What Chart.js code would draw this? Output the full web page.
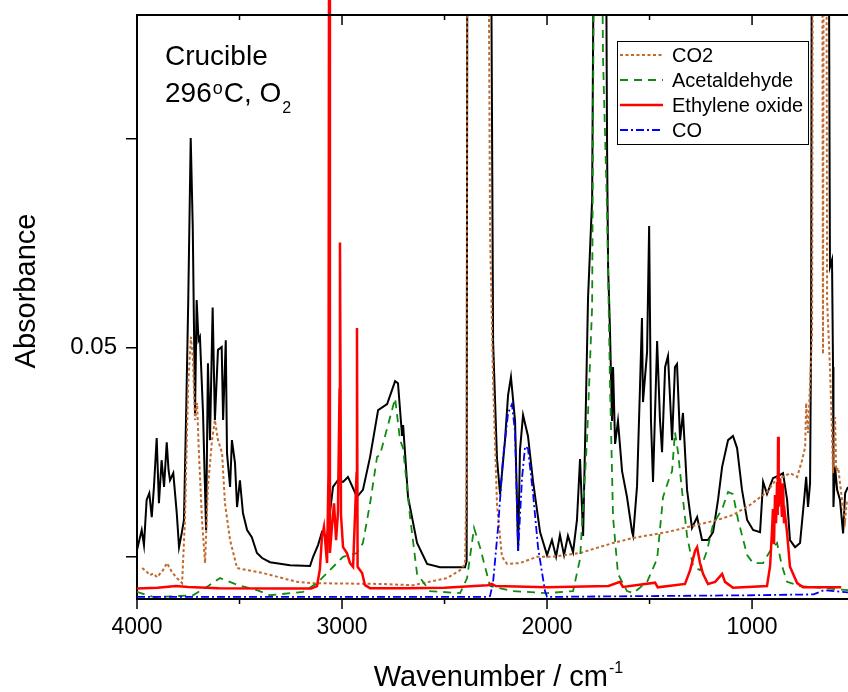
<!DOCTYPE html>
<html>
<head>
<meta charset="utf-8">
<script src="https://cdn.jsdelivr.net/npm/chart.js@4.4.1/dist/chart.umd.min.js"></script>
<style>
  body { margin: 0; background: #fff; }
  #wrap { width: 848px; height: 692px; }
</style>
</head>
<body>
<div id="wrap"><canvas id="chart" width="848" height="692"></canvas></div>
<script>
// IR spectrum, crucible at 296 C in O2. Absorbance kept in milli-absorbance units.
const xTicks = [4000, 3000, 2000, 1000];
const xMinor = [3500, 2500, 1500];
const yTicks = [0, 0.05, 0.1];
const yLabels = ['', '0.05', ''];

// measured spectrum (black)
const spectrumWn = [
  4000, 3977, 3966, 3953, 3940, 3928, 3917, 3904, 3893, 3880,
  3868, 3855, 3846, 3839, 3823, 3806, 3795, 3782, 3771, 3759,
  3750, 3738, 3728, 3717, 3709, 3700, 3693, 3678, 3663, 3654,
  3644, 3631, 3620, 3605, 3587, 3580, 3567, 3561, 3546, 3537,
  3522, 3512, 3498, 3483, 3463, 3440, 3415, 3390, 3351, 3254,
  3156, 3141, 3117, 3098, 3073, 3044, 3020, 2995, 2971, 2946,
  2927, 2898, 2863, 2824, 2780, 2741, 2727, 2707, 2702, 2678,
  2634, 2585, 2522, 2400, 2392, 2388, 2278, 2263, 2244, 2229,
  2205, 2190, 2176, 2156, 2141, 2132, 2117, 2093, 2068, 2034,
  2000, 1976, 1956, 1937, 1917, 1898, 1873, 1854, 1839, 1824,
  1810, 1800, 1780, 1766, 1717, 1707, 1702, 1693, 1683, 1678,
  1668, 1654, 1634, 1610, 1585, 1580, 1561, 1546, 1537, 1532,
  1512, 1502, 1493, 1483, 1463, 1449, 1439, 1424, 1410, 1390,
  1376, 1366, 1351, 1337, 1317, 1293, 1268, 1244, 1215, 1190,
  1166, 1146, 1117, 1093, 1073, 1049, 1024, 995, 961, 946,
  927, 898, 863, 849, 829, 815, 790, 766, 746, 736,
  727, 717, 712, 707, 629, 620, 610, 605, 603, 595,
  585, 571, 556, 546, 532
];
const spectrumMAbs = [
  1.6, 6.4, 2.8, 13.6, 15.2, 9.5, 17.0, 28.4, 12.8, 23.1,
  16.7, 27.4, 20.7, 18.3, 20.0, 10.4, 2.3, 5.6, 8.8, 37.5,
  61.4, 100.2, 78.8, 34.4, 61.4, 51.8, 52.6, 34.4, 6.4, 46.3,
  27.9, 59.6, 32.7, 49.5, 50.2, 32.7, 51.8, 24.8, 16.7, 27.9,
  22.4, 11.9, 18.3, 10.4, 6.4, 4.7, 0.9, -0.3, -1.3, -2.0,
  -2.2, 0.0, 2.8, 5.9, 4.7, 16.7, 18.3, 17.9, 19.1, 16.4,
  14.3, 16.0, 23.9, 35.1, 36.5, 42.0, 41.5, 28.9, 31.5, 14.3,
  3.3, -1.7, -2.5, -2.5, -1.0, 200, 200, 51.3, 23.4, 15.0,
  27.9, 38.7, 43.0, 32.5, 1.4, 25.5, 33.9, 28.9, 17.9, 5.9,
  0.4, 4.0, 0.0, 5.2, 0.4, 5.0, 1.1, 8.8, 23.4, 5.0,
  37.5, 61.9, 85.5, 200, 200, 96.5, 69.0, 54.2, 32.5, 45.4,
  27.0, 32.5, 20.5, 14.3, 5.9, 5.0, 16.9, 41.5, 57.1, 37.0,
  49.0, 79.1, 32.5, 17.9, 51.6, 32.7, 25.0, 45.4, 48.0, 27.9,
  45.4, 46.1, 27.9, 34.4, 16.0, 6.9, 9.5, 4.0, 4.0, 5.9,
  13.6, 21.5, 27.9, 28.9, 26.0, 16.0, 8.8, 6.4, 5.9, 17.9,
  15.0, 18.8, 19.6, 20.0, 13.6, 4.0, 2.3, 3.3, 13.6, 19.1,
  11.9, 17.6, 53.5, 200, 200, 69.3, 71.0, 45.4, 11.9, 21.5,
  16.0, 13.6, 5.6, 15.2, 16.7
];

// CO2 reference
const co2Wn = [
  3975, 3954, 3937, 3920, 3902, 3873, 3854, 3829, 3805, 3780,
  3766, 3751, 3737, 3727, 3717, 3707, 3698, 3683, 3668, 3654,
  3634, 3620, 3605, 3585, 3571, 3546, 3512, 3385, 3220, 3156,
  2815, 2654, 2488, 2424, 2400, 2392, 2388, 2290, 2278, 2263,
  2244, 2220, 2195, 2132, 2049, 1971, 1839, 1678, 1580, 1415,
  1254, 1171, 1093, 1010, 927, 878, 849, 815, 780, 756,
  741, 736, 727, 707, 702, 659, 654, 649, 639, 634,
  620, 610, 605, 595, 590, 580, 561, 546, 537
];
const co2MAbs = [
  -2.7, -3.5, -4.4, -4.0, -4.9, -3.2, -1.5, -3.7, -5.1, -6.3,
  8.8, 40.6, 52.6, 47.1, 32.7, 36.8, 24.8, 8.8, -1.5, 16.7,
  27.9, 32.7, 27.9, 24.8, 12.8, 4.0, -2.7, -3.9, -6.0, -6.3,
  -6.5, -6.8, -5.1, -3.2, -1.7, 20, 200, 200, 78.1, 41.6,
  12.4, 0.0, -1.7, -1.5, 0.0, 0.0, 0.9, 3.3, 4.5, 5.9,
  7.8, 8.8, 10.0, 12.4, 15.5, 18.8, 19.1, 20.0, 19.1, 23.1,
  26.2, 36.8, 29.6, 53.5, 200, 200, 48.5, 200, 200, 61.4,
  45.4, 29.6, 20.0, 33.4, 20.6, 21.3, 13.6, 8.8, 13.6
];

// acetaldehyde reference
const acetWn = [
  4000, 3951, 3922, 3888, 3727, 3659, 3595, 3512, 3415, 3351,
  3190, 3122, 3059, 2995, 2927, 2898, 2863, 2829, 2815, 2741,
  2717, 2702, 2668, 2634, 2571, 2424, 2390, 2356, 2327, 2278,
  2166, 2000, 1873, 1839, 1805, 1780, 1766, 1741, 1727, 1707,
  1693, 1678, 1654, 1610, 1580, 1512, 1463, 1434, 1410, 1390,
  1376, 1361, 1342, 1317, 1288, 1254, 1220, 1190, 1146, 1117,
  1093, 1068, 1024, 995, 946, 912, 878, 854, 829, 766,
  532
];
const acetMAbs = [
  -8.4, -9.2, -9.6, -9.6, -9.2, -7.2, -5.1, -6.7, -8.0, -9.2,
  -8.4, -6.3, -3.2, 0.0, 0.9, 3.3, 12.8, 23.9, 24.3, 37.9,
  27.9, 26.0, 9.5, -4.1, -8.2, -8.7, -5.1, 6.9, 2.3, -7.0,
  -8.2, -8.7, -8.2, -0.5, 27.9, 59.9, 200, 200, 119.5, 82.5,
  41.5, 9.5, -4.1, -8.2, -8.7, -6.0, -0.5, 14.3, 17.9, 20.5,
  29.8, 25.0, 16.0, 5.0, -2.2, -3.2, 1.4, 7.8, 11.4, 15.5,
  15.0, 8.8, 0.4, -1.5, -1.5, 1.4, 3.3, -2.2, -6.0, -7.0,
  -8.0
];

// ethylene oxide reference
const eoWn = [
  4000, 3900, 3810, 3750, 3600, 3300, 3150, 3122, 3108, 3098,
  3088, 3073, 3066, 3063, 3059, 3049, 3039, 3029, 3020, 3012,
  3010, 3005, 2995, 2976, 2961, 2946, 2929, 2927, 2924, 2902,
  2888, 2863, 2700, 2500, 2290, 2270, 2250, 2000, 1700, 1644,
  1630, 1473, 1460, 1327, 1302, 1278, 1268, 1254, 1239, 1215,
  1180, 1146, 1132, 1093, 927, 912, 903, 898, 893, 888,
  883, 878, 875, 873, 870, 868, 863, 858, 854, 849,
  844, 839, 829, 815, 780, 751, 565
];
const eoMAbs = [
  -7.6, -7.4, -7.0, -7.2, -7.5, -7.6, -7.6, -7.0, -3.0, 4.7,
  7.2, -1.5, 20, 160, 0.9, 7.2, 12.8, 4.0, 10.4, 40,
  75.2, 10, 2.3, 0.9, -1.5, -2.4, 20, 54.7, -2.4, -3.9,
  -6.8, -7.5, -7.5, -7.4, -6.8, -6.5, -7.0, -7.3, -7.0, -6.0,
  -7.2, -6.2, -7.3, -6.5, -3.2, 1.4, 2.3, -1.5, -4.1, -6.5,
  -6.0, -4.1, -6.0, -7.4, -7.0, -2.2, 6.0, 11.4, 3.0, 14.8,
  8.0, 17.9, 10.0, 28.7, 12.0, 16.0, 18.8, 13.6, 9.5, 17.6,
  8.0, 10.0, 5.6, -2.4, -6.3, -7.3, -7.3
];

// CO reference
const coWn = [
  4000, 2300, 2278, 2263, 2239, 2215, 2190, 2171, 2156, 2141,
  2122, 2107, 2093, 2068, 2044, 2010, 2000, 1000, 700, 650,
  532
];
const coMAbs = [
  -9.6, -9.6, -9.4, -6.0, 6.9, 23.4, 34.4, 36.5, 29.8, 1.4,
  18.8, 26.4, 25.9, 15.0, 2.3, -8.2, -9.6, -9.2, -9.0, -8.0,
  -8.5
];

const FONT = '"Liberation Sans", Arial, sans-serif';

function toPoints(wn, mAbs) {
  return wn.map((w, i) => ({ x: w, y: mAbs[i] / 1000 }));
}

// frame, tick marks, legend box, axis titles and the label in the corner
const decor = {
  id: 'decor',
  afterDraw(chart) {
    const ctx = chart.ctx;
    const { left, right, top, bottom } = chart.chartArea;
    const xs = chart.scales.x;
    const ys = chart.scales.y;
    ctx.save();

    ctx.strokeStyle = '#000';
    ctx.lineWidth = 2;
    ctx.beginPath();
    ctx.moveTo(left - 1, top);
    ctx.lineTo(right, top);
    ctx.stroke();

    ctx.lineWidth = 1.5;
    const tick = (x1, y1, x2, y2) => {
      ctx.beginPath();
      ctx.moveTo(x1, y1);
      ctx.lineTo(x2, y2);
      ctx.stroke();
    };
    xTicks.forEach(v => {
      const px = xs.getPixelForValue(v);
      tick(px, bottom, px, bottom + 10);
      tick(px, top, px, top + 10);
    });
    xMinor.forEach(v => {
      const px = xs.getPixelForValue(v);
      tick(px, bottom, px, bottom + 5);
      tick(px, top, px, top + 5);
    });
    yTicks.forEach(v => {
      const py = ys.getPixelForValue(v);
      tick(left, py, left - 11, py);
    });

    // legend
    ctx.fillStyle = '#fff';
    ctx.fillRect(617, 41, 191, 103);
    ctx.lineWidth = 1;
    ctx.strokeStyle = '#000';
    ctx.strokeRect(617.5, 41.5, 191, 103);
    ctx.font = '20px ' + FONT;
    ctx.textBaseline = 'middle';
    ctx.textAlign = 'left';
    chart.data.datasets.filter(d => d.label).forEach((d, i) => {
      const y = 55 + i * 25;
      ctx.strokeStyle = d.borderColor;
      ctx.lineWidth = d.borderWidth;
      ctx.setLineDash(d.borderDash || []);
      ctx.beginPath();
      ctx.moveTo(620, y);
      ctx.lineTo(663, y);
      ctx.stroke();
      ctx.setLineDash([]);
      ctx.fillStyle = '#000';
      ctx.fillText(d.label, 672, y + 1);
    });

    // annotation
    ctx.fillStyle = '#000';
    ctx.textBaseline = 'alphabetic';
    ctx.font = '28px ' + FONT;
    ctx.fillText('Crucible', 165, 65);
    let x = 165;
    ctx.fillText('296', x, 102);
    x += ctx.measureText('296').width + 1;
    ctx.font = '18px ' + FONT;
    ctx.fillText('o', x, 94);
    x += ctx.measureText('o').width + 1;
    ctx.font = '28px ' + FONT;
    ctx.fillText('C, O', x, 102);
    x += ctx.measureText('C, O').width + 1;
    ctx.font = '16px ' + FONT;
    ctx.fillText('2', x, 113);

    // x title
    ctx.font = '29px ' + FONT;
    const main = 'Wavenumber / cm';
    const mw = ctx.measureText(main).width;
    ctx.font = '16px ' + FONT;
    const sw = ctx.measureText('-1').width;
    const x0 = 498 - (mw + sw) / 2;
    ctx.font = '29px ' + FONT;
    ctx.fillText(main, x0, 686);
    ctx.font = '16px ' + FONT;
    ctx.fillText('-1', x0 + mw + 1, 673);

    // y title
    ctx.translate(35, 291);
    ctx.rotate(-Math.PI / 2);
    ctx.textAlign = 'center';
    ctx.font = '29px ' + FONT;
    ctx.fillText('Absorbance', 0, 0);

    ctx.restore();
  }
};

new Chart(document.getElementById('chart'), {
  type: 'line',
  data: {
    datasets: [
      { data: toPoints(spectrumWn, spectrumMAbs), borderColor: '#000000', borderWidth: 2, order: 4 },
      { label: 'CO2', data: toPoints(co2Wn, co2MAbs), borderColor: '#c06a2d', borderWidth: 2, borderDash: [3, 2.5], order: 3 },
      { label: 'Acetaldehyde', data: toPoints(acetWn, acetMAbs), borderColor: '#118a11', borderWidth: 1.8, borderDash: [8, 6], order: 2 },
      { label: 'Ethylene oxide', data: toPoints(eoWn, eoMAbs), borderColor: '#ff0000', borderWidth: 2.5, order: 0,
        clip: { left: 0, top: 15, right: 0, bottom: 0 } },
      { label: 'CO', data: toPoints(coWn, coMAbs), borderColor: '#0000ff', borderWidth: 1.8, borderDash: [8, 3, 2, 3], order: 1 }
    ]
  },
  options: {
    responsive: false,
    animation: false,
    devicePixelRatio: 1,
    layout: { padding: { top: 15, left: 0, right: 0, bottom: 0 } },
    elements: { point: { radius: 0 }, line: { tension: 0 } },
    plugins: { legend: { display: false }, tooltip: { enabled: false } },
    scales: {
      x: {
        type: 'linear',
        reverse: true,
        min: 532,
        max: 4000,
        afterFit: s => { s.height = 93; s.paddingLeft = 0; s.paddingRight = 0; },
        afterBuildTicks: s => { s.ticks = xTicks.map(v => ({ value: v })); },
        ticks: {
          callback: v => String(v),
          font: { family: FONT, size: 23 },
          color: '#000',
          padding: 5,
          maxRotation: 0,
          autoSkip: false
        },
        grid: { drawOnChartArea: false, color: 'rgba(0,0,0,0)', tickLength: 10 },
        border: { color: '#000', width: 2 }
      },
      y: {
        type: 'linear',
        min: -0.0101,
        max: 0.1296,
        afterFit: s => { s.width = 137; s.paddingTop = 0; s.paddingBottom = 0; },
        afterBuildTicks: s => { s.ticks = yTicks.map(v => ({ value: v })); },
        ticks: {
          callback: (v, i) => yLabels[i],
          font: { family: FONT, size: 24 },
          color: '#000',
          padding: 9
        },
        grid: { drawOnChartArea: false, color: 'rgba(0,0,0,0)', tickLength: 11 },
        border: { color: '#000', width: 2 }
      }
    }
  },
  plugins: [decor]
});
</script>
</body>
</html>
